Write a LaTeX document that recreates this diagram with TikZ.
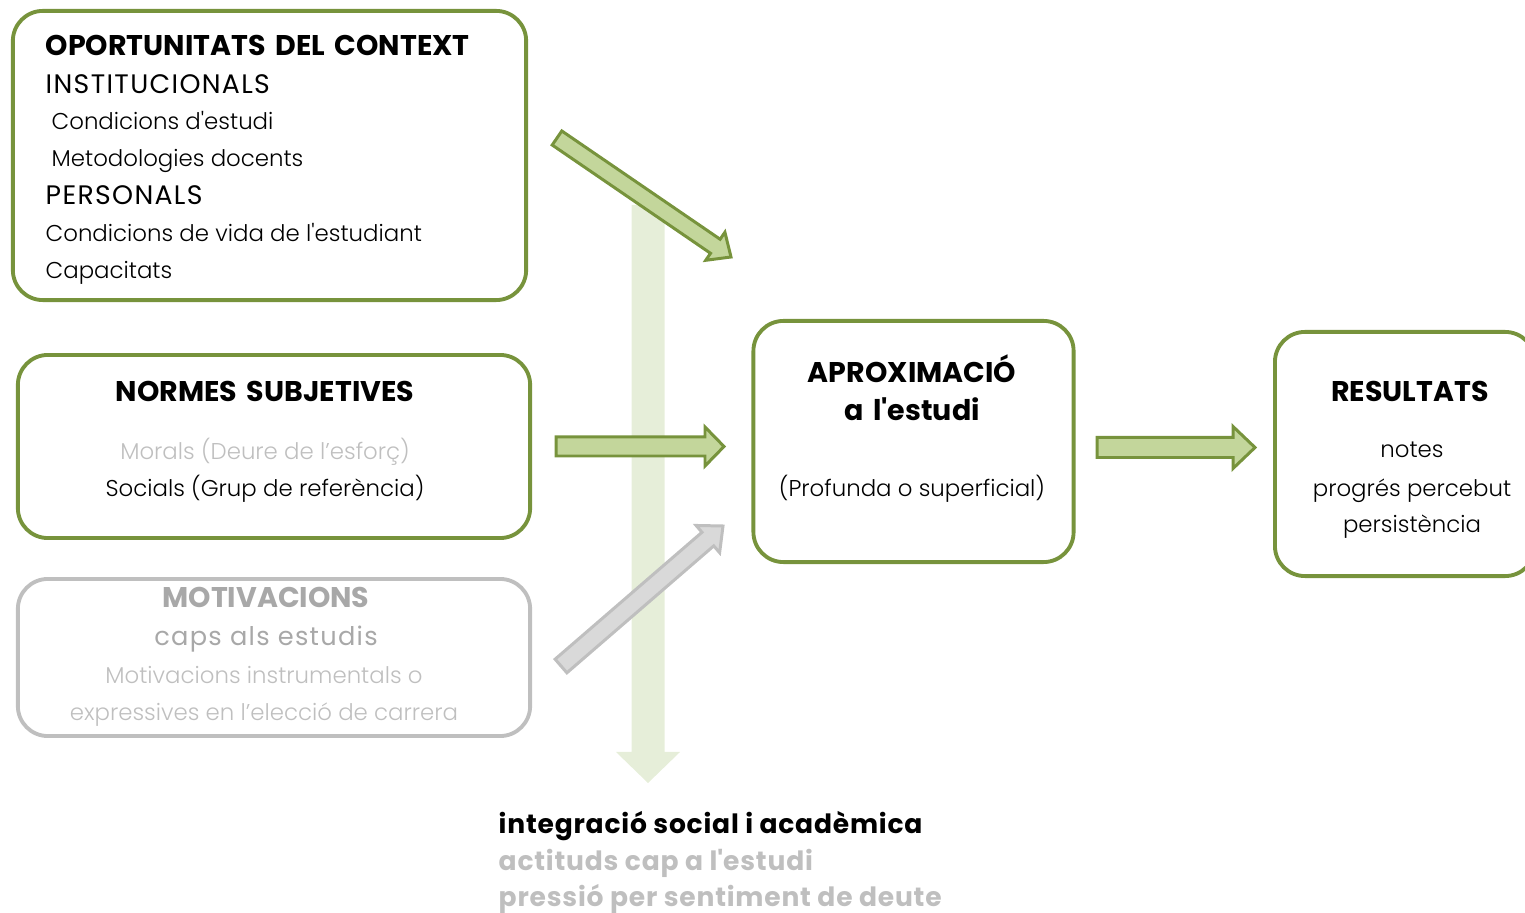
\documentclass[tikz,border=0pt]{standalone}
\usepackage{fontspec}
\setmainfont{Poppins}
\newfontfamily\lightfont{Poppins Light}
\newfontfamily\titlefont{Poppins}[WordSpace=1.6]
\usepackage{xcolor}
\usetikzlibrary{calc}

\definecolor{olivedark}{HTML}{77933C}
\definecolor{olivelight}{HTML}{C3D69B}
\definecolor{olivepale}{HTML}{E6EED9}
\definecolor{greytext}{HTML}{BFBFBF}
\definecolor{greydark}{HTML}{A8A8A8}
\definecolor{greyfill}{HTML}{D9D9D9}

% block arrow: style, tail, tip, half shaft, half head, head length
\newcommand{\blockarrow}[6]{%
  \path ($(#3)!#6!(#2)$) coordinate (arrbase);
  \draw[#1] ($(#2)!#4!90:(#3)$) -- ($(arrbase)!#4!90:(#3)$)
    -- ($(arrbase)!#5!90:(#3)$) -- (#3) -- ($(arrbase)!#5!-90:(#3)$)
    -- ($(arrbase)!#4!-90:(#3)$) -- ($(#2)!#4!-90:(#3)$) -- cycle;}

\begin{document}
\begin{tikzpicture}[x=0.01cm, y=-0.01cm,
  box/.style={draw=olivedark, line width=1.1pt, rounded corners=0.3cm},
  greybox/.style={draw=greytext, line width=1.1pt, rounded corners=0.3cm},
  garrow/.style={fill=olivelight, draw=olivedark, line width=0.85pt},
  grarrow/.style={fill=greyfill, draw=greytext, line width=0.85pt},
  varrow/.style={fill=olivepale, draw=none},
  lbl/.style={inner sep=0pt},
  title/.style={lbl, font=\fontsize{8.1}{9}\titlefont\bfseries},
  caps/.style={lbl, font=\fontsize{7.6}{9}\selectfont\addfontfeatures{LetterSpace=5}},
  txt/.style={lbl, font=\fontsize{6.5}{8}\lightfont},
  bottom/.style={lbl, font=\fontsize{7.55}{9}\selectfont\bfseries\addfontfeatures{LetterSpace=3}}]
\useasboundingbox (0,0) rectangle (1525,913);
\clip (0,0) rectangle (1525,913);

% arrow ends
\coordinate (v1) at (648,205);
\coordinate (v2) at (648,783);
\coordinate (d1) at (557,138);
\coordinate (d2) at (731,257);
\coordinate (h1) at (556,446.5);
\coordinate (h2) at (724,446.5);
\coordinate (g1) at (561,666);
\coordinate (g2) at (723,526);
\coordinate (r1) at (1097,447.5);
\coordinate (r2) at (1255,447.5);

\blockarrow{varrow}{v1}{v2}{0.165cm}{0.32cm}{0.31cm}
\blockarrow{garrow}{d1}{d2}{0.085cm}{0.17cm}{0.19cm}
\blockarrow{garrow}{h1}{h2}{0.095cm}{0.195cm}{0.19cm}
\blockarrow{grarrow}{g1}{g2}{0.09cm}{0.18cm}{0.2cm}
\blockarrow{garrow}{r1}{r2}{0.1cm}{0.21cm}{0.22cm}

% boxes
\node[box, minimum width=5.13cm, minimum height=2.89cm] (ctx) at (269.5,155.5) {};
\node[box, minimum width=5.12cm, minimum height=1.83cm] (norm) at (274,446.5) {};
\node[greybox, minimum width=5.12cm, minimum height=1.57cm] (motiv) at (274,657.5) {};
\node[box, minimum width=3.20cm, minimum height=2.41cm] (aprox) at (913.5,441.5) {};
\node[box, minimum width=2.60cm, minimum height=2.44cm] (res) at (1405,454) {};

% oportunitats
\node[title, anchor=base west] (ctx0) at (45,56) {OPORTUNITATS DEL CONTEXT};
\node[caps, anchor=base west] (inst) at (45,94) {INSTITUCIONALS};
\node[txt, anchor=base west] (inst1) at (51,130) {Condicions d\textquotesingle estudi};
\node[txt, anchor=base west] (inst2) at (51,167) {Metodologies docents};
\node[caps, anchor=base west] (pers) at (45,205) {PERSONALS};
\node[txt, anchor=base west] (pers1) at (45,242) {Condicions de vida de l\textquotesingle estudiant};
\node[txt, anchor=base west] (pers2) at (45,279) {Capacitats};

% normes
\node[title, anchor=base] (norm0) at (265,402) {NORMES SUBJETIVES};
\node[txt, anchor=base, text=greytext] (norm1) at (265,460) {Morals (Deure de l’esforç)};
\node[txt, anchor=base] (norm2) at (265,497) {Socials (Grup de referència)};

% motivacions
\node[title, anchor=base, text=greydark] (motiv0) at (266,607) {MOTIVACIONS};
\node[caps, anchor=base, text=greydark, font=\fontsize{7.3}{9}\selectfont\addfontfeatures{LetterSpace=5}] (motiv1) at (266,645) {caps als estudis};
\node[txt, anchor=base, text=greytext] (motiv2) at (264,683) {Motivacions instrumentals o};
\node[txt, anchor=base, text=greytext] (motiv3) at (264,720) {expressives en l’elecció de carrera};

% aproximacio
\node[title, anchor=base] (aprox0) at (912,383) {APROXIMACIÓ};
\node[title, anchor=base] (aprox1) at (912,421) {a l\textquotesingle estudi};
\node[txt, anchor=base] (aprox2) at (912,497) {(Profunda o superficial)};

% resultats
\node[title, anchor=base] (res0) at (1410,402) {RESULTATS};
\node[txt, anchor=base] (res1) at (1412,458) {notes};
\node[txt, anchor=base] (res2) at (1412,497) {progrés percebut};
\node[txt, anchor=base] (res3) at (1412,533) {persistència};

% integracio
\node[bottom, anchor=base west] (integ0) at (498,833) {integració social i acadèmica};
\node[bottom, anchor=base west, text=greytext] (integ1) at (498,870) {actituds cap a l\textquotesingle estudi};
\node[bottom, anchor=base west, text=greytext] (integ2) at (498,906) {pressió per sentiment de deute};
\end{tikzpicture}
\end{document}
